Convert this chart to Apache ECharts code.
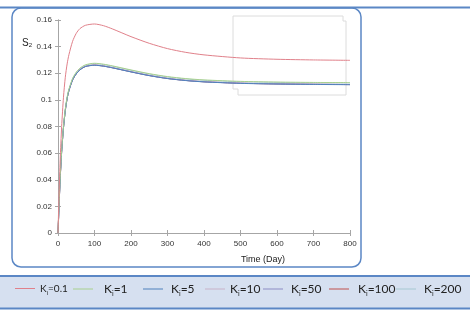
<!DOCTYPE html>
<html>
<head>
<meta charset="utf-8">
<script src="https://cdn.jsdelivr.net/npm/echarts@6/dist/echarts.min.js"></script>
<style>
  html, body { margin: 0; padding: 0; background: #fff; }
  #main { width: 475px; height: 311px; }
</style>
</head>
<body>
<div id="main"></div>
<script>
// time points (days)
var timeDays = [0, 3, 6, 10, 15, 20, 25, 30, 40, 50, 60, 75, 100, 125, 150, 200, 250, 300, 350, 400, 500, 600, 700, 800];

// S2 for each Ki
var ki01 = [0, 0.030, 0.055, 0.080, 0.102, 0.117, 0.127, 0.134, 0.144, 0.150, 0.1535, 0.156, 0.157, 0.1557, 0.1532, 0.1475, 0.1425, 0.1385, 0.1357, 0.1338, 0.1315, 0.1305, 0.1300, 0.1297];
var ki1 = [0, 0.022, 0.042, 0.062, 0.080, 0.093, 0.102, 0.108, 0.116, 0.1208, 0.1238, 0.1263, 0.1275, 0.1268, 0.1255, 0.1225, 0.1197, 0.1175, 0.1160, 0.1150, 0.1139, 0.1134, 0.1131, 0.1130];
var ki5 = [0, 0.021, 0.041, 0.061, 0.079, 0.092, 0.101, 0.107, 0.115, 0.1195, 0.1225, 0.1250, 0.1260, 0.1253, 0.1240, 0.1210, 0.1182, 0.1160, 0.1145, 0.1135, 0.1124, 0.1119, 0.1116, 0.1114];
var ki10 = [0, 0.021, 0.041, 0.061, 0.079, 0.092, 0.101, 0.107, 0.115, 0.1197, 0.1227, 0.1252, 0.1262, 0.1255, 0.1242, 0.1212, 0.1184, 0.1162, 0.1147, 0.1137, 0.1126, 0.1121, 0.1118, 0.1116];
var ki50 = [0, 0.021, 0.041, 0.061, 0.079, 0.092, 0.101, 0.107, 0.115, 0.1196, 0.1226, 0.1251, 0.1261, 0.1254, 0.1241, 0.1211, 0.1183, 0.1161, 0.1146, 0.1136, 0.1125, 0.1120, 0.1117, 0.1115];
var ki100 = [0, 0.021, 0.041, 0.061, 0.079, 0.092, 0.101, 0.107, 0.115, 0.1196, 0.1226, 0.1251, 0.1261, 0.1254, 0.1241, 0.1211, 0.1183, 0.1161, 0.1146, 0.1136, 0.1125, 0.1120, 0.1117, 0.1115];
var ki200 = [0, 0.022, 0.042, 0.062, 0.080, 0.093, 0.102, 0.108, 0.116, 0.1205, 0.1235, 0.1260, 0.1272, 0.1265, 0.1252, 0.1222, 0.1194, 0.1172, 0.1157, 0.1147, 0.1136, 0.1131, 0.1128, 0.1127];

var seriesNames = ['Ki=0.1', 'Ki=1', 'Ki=5', 'Ki=10', 'Ki=50', 'Ki=100', 'Ki=200'];
var seriesData = [ki01, ki1, ki5, ki10, ki50, ki100, ki200];
var colors = ['#e0808a', '#a9d18e', '#4f81bd', '#c9b2c9', '#8c8cc4', '#c0504d', '#a7c9d3'];
var zOrder = [9, 8, 7, 5, 6, 3, 4];

// legend item positions (px from left) and extra space before the text
var legendLeft = [15, 73, 143, 205, 263, 329, 396];
var legendTextPad = [0, 6, 3, 0, 3, 4, 3];

var chart = echarts.init(document.getElementById('main'));

function toPairs(arr) {
  var out = [];
  for (var i = 0; i < arr.length; i++) {
    out.push([timeDays[i], arr[i]]);
  }
  return out;
}

var series = [];
for (var i = 0; i < seriesNames.length; i++) {
  series.push({
    name: seriesNames[i],
    type: 'line',
    data: toPairs(seriesData[i]),
    smooth: 0.25,
    symbol: 'none',
    z: zOrder[i],
    lineStyle: { width: 1, color: colors[i] },
    itemStyle: { color: colors[i] }
  });
}

var legends = [];
for (var j = 0; j < seriesNames.length; j++) {
  var small = j === 0;
  legends.push({
    data: [seriesNames[j]],
    left: legendLeft[j],
    top: 281,
    padding: 0,
    icon: 'rect',
    itemWidth: 20,
    itemHeight: 1,
    itemGap: 4,
    selectedMode: false,
    formatter: function (name) {
      return '{k|K}{s|i}{v|' + name.slice(2) + '}';
    },
    textStyle: {
      color: '#222',
      fontFamily: 'Lato, "Liberation Sans", sans-serif',
      rich: {
        k: { fontSize: small ? 10 : 12, lineHeight: 16, padding: [0, 0, 0, legendTextPad[j]] },
        s: { fontSize: small ? 6 : 7, lineHeight: 16, padding: [9, 0, 0, 0] },
        v: { fontSize: small ? 10 : 12, lineHeight: 16 }
      }
    }
  });
}

var axisGray = '#a6a6a6';
var labelFont = '"Liberation Sans", Arial, sans-serif';

var option = {
  animation: false,
  grid: { left: 58, right: 125, top: 20, bottom: 78 },
  legend: legends,
  xAxis: [{
    type: 'value',
    min: 0,
    max: 800,
    interval: 100,
    axisLine: { lineStyle: { color: axisGray } },
    axisTick: { inside: true, length: 3, lineStyle: { color: axisGray } },
    axisLabel: { fontSize: 8, color: '#333', margin: 7, fontFamily: labelFont },
    splitLine: { show: false }
  }, {
    type: 'value',
    position: 'top',
    min: 0,
    max: 800,
    interval: 100,
    axisLine: { lineStyle: { color: axisGray } },
    axisTick: { inside: true, length: 3, lineStyle: { color: axisGray } },
    axisLabel: { show: false },
    splitLine: { show: false }
  }],
  yAxis: [{
    type: 'value',
    min: 0,
    max: 0.16,
    interval: 0.02,
    axisLine: { show: true, lineStyle: { color: axisGray } },
    axisTick: { show: true, inside: true, length: 3, lineStyle: { color: axisGray } },
    axisLabel: { fontSize: 8, color: '#333', margin: 6, fontFamily: labelFont },
    splitLine: { show: false }
  }, {
    type: 'value',
    position: 'right',
    min: 0,
    max: 0.16,
    interval: 0.02,
    axisLine: { show: true, lineStyle: { color: axisGray } },
    axisTick: { show: true, inside: true, length: 3, lineStyle: { color: axisGray } },
    axisLabel: { show: false },
    splitLine: { show: false }
  }],
  graphic: [
    // rounded frame around the plot
    {
      type: 'rect', z: -10,
      shape: { x: 12, y: 8, width: 349, height: 259, r: 9 },
      style: { fill: '#fff', stroke: '#5b87c5', lineWidth: 1.5 }
    },
    // top rule
    {
      type: 'line', z: -5,
      shape: { x1: 0, y1: 7.5, x2: 470, y2: 7.5 },
      style: { stroke: '#5b87c5', lineWidth: 2 }
    },
    // legend band
    {
      type: 'rect', z: -10,
      shape: { x: 0, y: 276, width: 470, height: 32 },
      style: { fill: '#d6e0f0', stroke: null }
    },
    {
      type: 'line', z: -5,
      shape: { x1: 0, y1: 276, x2: 470, y2: 276 },
      style: { stroke: '#5b87c5', lineWidth: 2 }
    },
    {
      type: 'line', z: -5,
      shape: { x1: 0, y1: 308.5, x2: 470, y2: 308.5 },
      style: { stroke: '#5b87c5', lineWidth: 2 }
    },
    // faint inset box
    {
      type: 'polyline', z: 1,
      shape: { points: [[233, 16], [343, 16], [343, 21], [346, 21], [346, 95], [238, 95], [238, 89], [233, 89], [233, 16]] },
      style: { stroke: '#dcdcdc', lineWidth: 1, fill: null }
    },
    // y axis title S2
    {
      type: 'text', left: 22, top: 38,
      style: {
        text: '{a|S}{b|2}',
        rich: {
          a: { fontSize: 10, fontFamily: labelFont, fill: '#222' },
          b: { fontSize: 6, fontFamily: labelFont, fill: '#222', padding: [5, 0, 0, 0] }
        }
      }
    },
    // x axis title
    {
      type: 'text', x: 263, y: 260,
      style: {
        text: 'Time (Day)',
        fontSize: 9, fontFamily: labelFont, fill: '#222',
        textAlign: 'center', textVerticalAlign: 'middle'
      }
    }
  ],
  series: series
};

chart.setOption(option);
</script>
</body>
</html>
